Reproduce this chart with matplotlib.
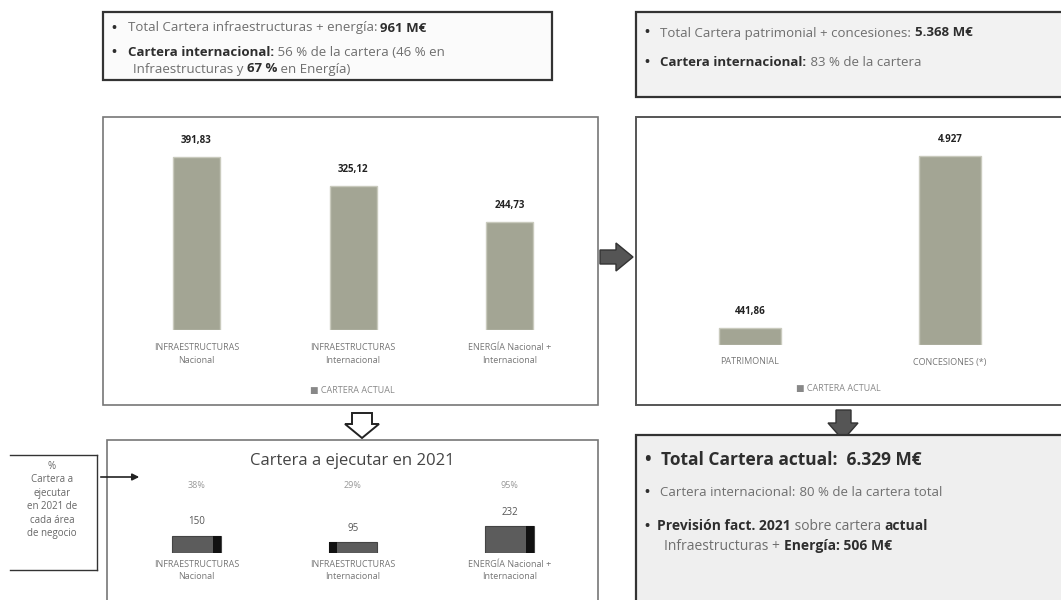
import matplotlib.pyplot as plt
from matplotlib.patches import Rectangle, Polygon

plt.rcParams['font.family'] = ['Open Sans', 'DejaVu Sans']

W, H = 1061, 600

# cartera actual infraestructuras + energía (M€)
cat_infra = ['INFRAESTRUCTURAS\nNacional', 'INFRAESTRUCTURAS\nInternacional',
             'ENERGÍA Nacional +\nInternacional']
cartera_infra = [391.83, 325.12, 244.73]

# cartera patrimonial + concesiones (M€)
cat_conc = ['PATRIMONIAL', 'CONCESIONES (*)']
cartera_conc = [441.86, 4927]

# cartera a ejecutar en 2021 por área
ejec_2021 = [150, 95, 232]
pct_2021 = ['38%', '29%', '95%']

BAR = '#a3a594'
GREY = '#6e6e6e'
DARK = '#2e2e2e'


def fmt(v):
    if v >= 1000:
        return f'{v:,.0f}'.replace(',', '.')
    return f'{v:.2f}'.replace('.', ',')


fig = plt.figure(figsize=(W / 100, H / 100), dpi=100)
fig.patch.set_facecolor('white')

# fondo en coordenadas de pixel
bg = fig.add_axes([0, 0, 1, 1])
bg.set_xlim(0, W)
bg.set_ylim(H, 0)
bg.axis('off')


def px_axes(x0, y0, x1, y1):
    ax = fig.add_axes([x0 / W, 1 - y1 / H, (x1 - x0) / W, (y1 - y0) / H])
    ax.patch.set_alpha(0)
    for s in ax.spines.values():
        s.set_visible(False)
    return ax


def box(x0, y0, x1, y1, fc='white', ec='#555555', lw=1.2):
    bg.add_patch(Rectangle((x0, y0), x1 - x0, y1 - y0, fc=fc, ec=ec, lw=lw))


def runs(x, y, parts, size, color=GREY):
    r = fig.canvas.get_renderer()
    for txt, bold in parts:
        t = bg.text(x, y, txt, fontsize=size, va='center', ha='left',
                    fontweight='bold' if bold else 'normal',
                    color=DARK if bold else color)
        x += t.get_window_extent(renderer=r).width


BUL = ('•   ', True)

# cajas de texto superiores
box(103, 12, 552, 80, fc='#fbfbfb', ec='#333333', lw=1.6)
runs(112, 28, [BUL, ('Total Cartera infraestructuras + energía: ', False), ('961 M€', True)], 9.5)
runs(112, 53, [BUL, ('Cartera internacional:', True),
               (' 56 % de la cartera (46 % en', False)], 9.5)
runs(133, 69, [('Infraestructuras y ', False), ('67 %', True), (' en Energía)', False)], 9.5)

box(636, 12, 1075, 97, fc='#f2f2f2', ec='#333333', lw=1.6)
runs(645, 33, [BUL, ('Total Cartera patrimonial + concesiones: ', False), ('5.368 M€', True)], 9.5)
runs(645, 62, [BUL, ('Cartera internacional:', True),
               (' 83 % de la cartera', False)], 9.5)

# paneles de graficos
box(103, 117, 598, 405, ec='#777777', lw=1.2)
box(636, 117, 1075, 405, ec='#555555', lw=1.4)

# flechas
bg.add_patch(Polygon([(600, 250), (616, 250), (616, 243), (633, 257), (616, 271),
                      (616, 264), (600, 264)], closed=True, fc='#555555', ec='#333333'))
bg.add_patch(Polygon([(352, 413), (372, 413), (372, 424), (379, 424), (362, 438),
                      (345, 424), (352, 424)], closed=True, fc='white', ec='#222222', lw=1.4))
bg.add_patch(Polygon([(836, 410), (851, 410), (851, 423), (858, 423), (843, 440),
                      (828, 423), (836, 423)], closed=True, fc='#555555', ec='#333333'))

# grafico izquierdo: cartera infraestructuras + energia
ax1 = px_axes(118, 130, 588, 330)
x1 = range(len(cartera_infra))
b1 = ax1.bar(x1, cartera_infra, width=0.3, color=BAR, edgecolor='#c9cabd', lw=1)
ax1.bar_label(b1, labels=[fmt(v) for v in cartera_infra], padding=8,
              fontsize=7, fontweight='bold', color='#222222')
ax1.set_xlim(-0.5, 2.5)
ax1.set_ylim(0, 453)
ax1.set_yticks([])
ax1.set_xticks(list(x1), cat_infra, fontsize=6.5, color='#777777', linespacing=1.6)
ax1.tick_params(axis='x', length=0, pad=9)
bg.text(352, 390, '■ CARTERA ACTUAL', fontsize=6.5, color='#888888', ha='center', va='center')

# grafico derecho: cartera patrimonial + concesiones
ax2 = px_axes(650, 140, 1050, 345)
x2 = range(len(cartera_conc))
b2 = ax2.bar(x2, cartera_conc, width=0.31, color=BAR, edgecolor='#c9cabd', lw=1)
ax2.bar_label(b2, labels=[fmt(v) for v in cartera_conc], padding=8,
              fontsize=7, fontweight='bold', color='#222222')
ax2.set_xlim(-0.5, 1.5)
ax2.set_ylim(0, 5344)
ax2.set_yticks([])
ax2.set_xticks(list(x2), cat_conc, fontsize=6.5, color='#777777')
ax2.tick_params(axis='x', length=0, pad=9)
bg.text(838, 388, '■ CARTERA ACTUAL', fontsize=6.5, color='#888888', ha='center', va='center')

# panel inferior izquierdo: cartera a ejecutar en 2021
box(107, 440, 598, 605, ec='#777777', lw=1.2)
bg.text(352, 461, 'Cartera a ejecutar en 2021', fontsize=12, color='#444444',
        ha='center', va='center')
ax3 = px_axes(118, 513, 588, 553)
x3 = list(range(len(ejec_2021)))
ax3.bar(x3, ejec_2021, width=0.31, color='#5c5c5c', edgecolor='#444444', lw=0.8)
# canto oscuro de cada barra
side = [0.13, -0.13, 0.13]
ax3.bar([x + s for x, s in zip(x3, side)], ejec_2021, width=0.05, color='#111111')
for x, v, p in zip(x3, ejec_2021, pct_2021):
    ax3.annotate(str(v), (x, v), xytext=(0, 6), textcoords='offset points',
                 ha='center', va='bottom', fontsize=7, color='#555555')
    ax3.annotate(p, (x, 0), xytext=(0, 553 - 485), textcoords='offset pixels',
                 ha='center', va='center', fontsize=6.5, color='#999999')
ax3.set_xlim(-0.5, 2.5)
ax3.set_ylim(0, 344)
ax3.set_yticks([])
ax3.set_xticks(x3, ['INFRAESTRUCTURAS\nNacional', 'INFRAESTRUCTURAS\nInternacional',
                    'ENERGÍA Nacional +\nInternacional'],
               fontsize=6.5, color='#777777', linespacing=1.4)
ax3.tick_params(axis='x', length=0, pad=5)

# nota lateral
bg.plot([10, 97], [455, 455], color='#333333', lw=1)
bg.plot([10, 97], [570, 570], color='#333333', lw=1)
bg.plot([97, 97], [455, 570], color='#333333', lw=1)
bg.text(52, 500, '%\nCartera a\nejecutar\nen 2021 de\ncada área\nde negocio', fontsize=7,
        color='#666666', ha='center', va='center', linespacing=1.3)
bg.annotate('', xy=(142, 477), xytext=(98, 477),
            arrowprops=dict(arrowstyle='-|>', color='#222222', lw=1.2))

# caja inferior derecha: resumen
box(636, 435, 1075, 605, fc='#efefef', ec='#333333', lw=1.6)
runs(645, 460, [('•  ', True), ('Total Cartera actual:  6.329 M€', True)], 12.5)
runs(645, 493, [BUL, ('Cartera internacional:', False),
                (' 80 % de la cartera total', False)], 9.5)
runs(645, 526, [('•  ', True), ('Previsión fact. 2021', True), (' sobre cartera ', False),
                ('actual', True)], 10)
runs(664, 546, [('Infraestructuras + ', False), ('Energía: 506 M€', True)], 10)

fig.savefig('out.png', dpi=100)
